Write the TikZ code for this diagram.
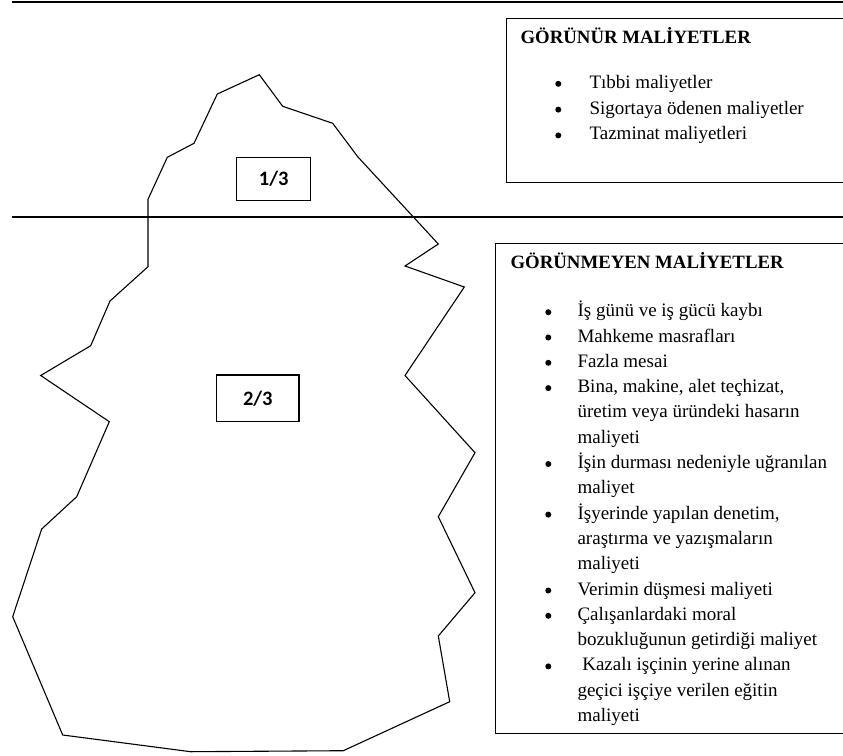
\documentclass[tikz,border=0pt]{standalone}
\usepackage{fontspec}
\setmainfont{Liberation Serif}
\newfontfamily\calibri{Carlito}

\begin{document}
\begin{tikzpicture}[x=1pt,y=-1pt,line width=1.1pt,
	fracbox/.style={draw,inner sep=0pt,font=\calibri\bfseries\fontsize{20.5}{24}\selectfont},
	costbox/.style={draw,anchor=north west,inner sep=0pt,minimum width=360pt},
	costtitle/.style={anchor=base west,inner sep=0pt,font=\bfseries\fontsize{18.8}{24}\selectfont},
	costlist/.style={anchor=base west,inner sep=0pt,font=\fontsize{19}{#1}\selectfont}]
	\clip (0,0) rectangle (843,755);
	\draw (12,2)--(850,2);\draw (12,217)--(850,217);
	\draw (259.3,74.7)--(282.7,106.3)--(332.7,123.3)--(357.7,156.7)--(438.3,244)--(405,266)--(464.3,287)--(405,375.5)--(475,452.7)--(438.3,516.7)--(475,592.7)--(438.3,636)--(449.7,701.7)
		--(343.3,750.7)--(190.7,751.7)--(62.7,735)--(12.7,616.7)--(41.7,529)--(76.7,496.7)--(109.3,421.7)--(40.7,375.5)--(90.7,345.7)--(110,301)--(148,266.7)--(148,199.3)--(167.3,157.3)--(194,143.3)--(217.3,94)--cycle;
	\node[fracbox,minimum width=74pt,minimum height=42.7pt] (third) at (273.7,178.7) {1/3};
	\node[fracbox,minimum width=82.3pt,minimum height=46.7pt] (twothirds) at (257.8,398.3) {2/3};
	\node[costbox,minimum height=163.4pt] (visbox) at (506,18.3) {};
	\node[costtitle] (vistitle) at (520,43.3) {GÖRÜNÜR MALİYETLER};
	\node[costlist=25.8] (vislist) at (589,88.3) {\begin{tabular}[t]{@{}l@{}}Tıbbi maliyetler\\Sigortaya ödenen maliyetler\\Tazminat maliyetleri\end{tabular}};
	\fill (558.3,83.8) circle[radius=3pt];\fill (558.3,109.6) circle[radius=3pt];\fill (558.3,135.4) circle[radius=3pt];
	\node[costbox,minimum height=490pt] (hidbox) at (495,243.3) {};
	\node[costtitle] (hidtitle) at (510,268.3) {GÖRÜNMEYEN MALİYETLER};
	\node[costlist=25.3] (hidlist) at (577,316.7) {\begin{tabular}[t]{@{}l@{}}
		İş günü ve iş gücü kaybı\\Mahkeme masrafları\\Fazla mesai\\
		Bina, makine, alet teçhizat,\\üretim veya üründeki hasarın\\maliyeti\\
		İşin durması nedeniyle uğranılan\\maliyet\\
		İşyerinde yapılan denetim,\\araştırma ve yazışmaların\\maliyeti\\
		Verimin düşmesi maliyeti\\Çalışanlardaki moral\\bozukluğunun getirdiği maliyet\\
		\ Kazalı işçinin yerine alınan\\geçici işçiye verilen eğitin\\maliyeti\end{tabular}};
	\fill (548.3,312.2) circle[radius=3pt];\fill (548.3,337.5) circle[radius=3pt];\fill (548.3,362.8) circle[radius=3pt];
	\fill (548.3,388.1) circle[radius=3pt];\fill (548.3,464.0) circle[radius=3pt];\fill (548.3,514.6) circle[radius=3pt];
	\fill (548.3,590.5) circle[radius=3pt];\fill (548.3,615.8) circle[radius=3pt];\fill (548.3,666.4) circle[radius=3pt];
\end{tikzpicture}
\end{document}
